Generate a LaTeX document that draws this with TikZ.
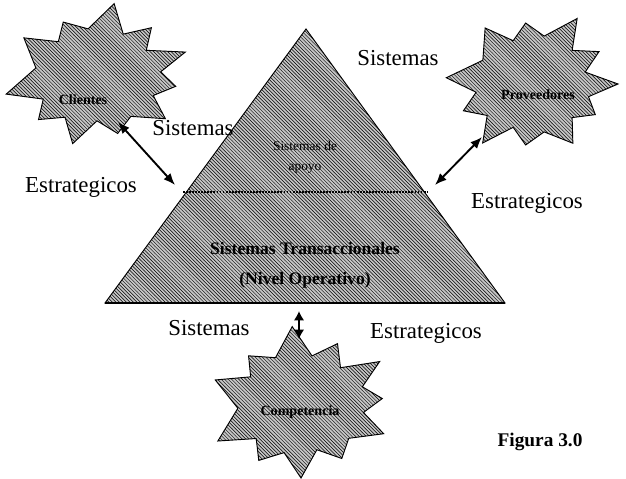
\documentclass[tikz,border=0pt]{standalone}
\usepackage{fontspec}
\setmainfont{Liberation Serif}
\usetikzlibrary{patterns,arrows.meta}

\begin{document}
\begin{tikzpicture}[x=0.03cm, y=-0.03cm, >={Latex[length=10pt,width=8pt]},
    hatch/.style={draw=black, line width=0.8pt, fill=gray!45, postaction={pattern=north west lines}},
    lbl/.style={font=\fontsize{19.5}{22}\selectfont},
    burstlabel/.style={font=\fontsize{12}{14}\selectfont\bfseries},
    link/.style={<->, line width=1.6pt}]
    \useasboundingbox (0,0) rectangle (626,478);

    % Piramide
    \coordinate (apex) at (306,29);
    \coordinate (baseL) at (105,303);
    \coordinate (baseR) at (505,303);
    \draw[hatch] (apex) -- (baseR) -- (baseL) -- cycle;
    \draw[line width=1.6pt] (baseL) -- (baseR);

    % Division entre niveles
    \coordinate (divL) at (183,192);
    \coordinate (divR) at (427,192);
    \draw[densely dotted, line width=1.6pt] (divL) -- (divR);

    \node[align=center, font=\fontsize{11.5}{17}\selectfont] (apoyo) at (305,157) {Sistemas de\\apoyo};
    \node[font=\fontsize{15}{18}\selectfont\bfseries] (trans) at (305,248) {Sistemas Transaccionales};
    \node[font=\fontsize{15}{18}\selectfont\bfseries] (nivel) at (305,280) {(Nivel Operativo)};

    % Estrellas
    \foreach \cx/\cy/\rot/\rx/\ry in {97/76/0/94/70, 532/84/20/86/72, 301/404/-15/96/74} {
        \begin{scope}[shift={(\cx,\cy)}, xscale=\rx, yscale=\ry]
            \draw[hatch] (\rot+165:1)
                \foreach \ang/\rad in {-170/0.66, -145/0.95, -130/0.64, -115/0.85, -98/0.68,
                    -80/1.05, -65/0.66, -50/0.9, -35/0.64, -20/1.0, -5/0.68, 10/0.85, 25/0.66,
                    40/0.95, 58/0.68, 75/0.85, 90/0.64, 105/1.0, 120/0.68, 135/0.88,
                    150/0.66} { -- (\rot+\ang:\rad) } -- cycle;
        \end{scope}
    }
    \node[burstlabel] (cli) at (83,100) {Clientes};
    \node[burstlabel] (prov) at (538,95) {Proveedores};
    \node[burstlabel] (comp) at (300,412) {Competencia};

    % Flechas
    \coordinate (cliEnd) at (118,122);
    \coordinate (pyrL) at (175,185);
    \coordinate (provEnd) at (482,137);
    \coordinate (pyrR) at (435,185);
    \coordinate (pyrB) at (299,311);
    \coordinate (compEnd) at (299,339);
    \draw[link] (cliEnd) -- (pyrL);
    \draw[link] (provEnd) -- (pyrR);
    \draw[link, >={Latex[length=8pt,width=9pt]}] (pyrB) -- (compEnd);

    % Etiquetas
    \node[lbl] (sisTop) at (398,58) {Sistemas};
    \node[lbl] (sisLeft) at (193,128) {Sistemas};
    \node[lbl] (estLeft) at (81,187) {Estrategicos};
    \node[lbl] (estRight) at (527,203) {Estrategicos};
    \node[lbl] (sisBot) at (209,328) {Sistemas};
    \node[lbl] (estBot) at (426,333) {Estrategicos};
    \node[font=\fontsize{16.5}{19}\selectfont\bfseries] (fig) at (540,442) {Figura 3.0};
\end{tikzpicture}
\end{document}
